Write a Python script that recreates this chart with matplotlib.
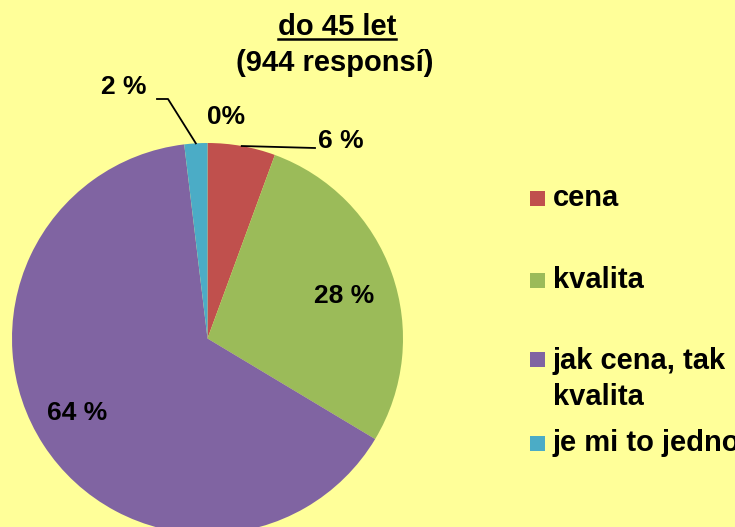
import numpy as np
import matplotlib
matplotlib.use("Agg")
import matplotlib.pyplot as plt
from matplotlib.patches import Rectangle
from matplotlib.lines import Line2D

# ----------------------------
# DATA
# ----------------------------
categories = ["cena", "kvalita", "jak cena, tak\nkvalita", "je mi to jedno", "jiné"]
shares = [5.6, 28.0, 64.5, 1.9, 0.0]
pct_labels = ["6 %", "28 %", "64 %", "2 %", "0%"]
colors = ["#C0504D", "#9BBB59", "#8064A2", "#4BACC6", "#F79646"]
title_lines = ["do 45 let", "(944 responsí)"]

W, H = 735, 527
BG = "#FFFF99"
FONT = "Liberation Sans"


def px(x, y):
    # image pixel coords (y from top) -> axes data coords
    return x, H - y


fig = plt.figure(figsize=(W / 100, H / 100), dpi=100, facecolor=BG)
ax = fig.add_axes([0, 0, 1, 1])
ax.set_facecolor(BG)

# ----------------------------
# PIE
# ----------------------------
cx, cy = px(207.5, 338.5)
radius = 195.5
wedges, _ = ax.pie(shares, colors=colors, startangle=90, counterclock=False,
                   center=(cx, cy), radius=radius, frame=True,
                   wedgeprops=dict(linewidth=0))
ax.set_xlim(0, W)
ax.set_ylim(0, H)
ax.set_aspect("equal")
ax.axis("off")


def edge_point(w, frac=1.0):
    ang = np.deg2rad((w.theta1 + w.theta2) / 2)
    return cx + frac * radius * np.cos(ang), cy + frac * radius * np.sin(ang)


txt = dict(fontsize=19, fontweight="bold", family=FONT, color="black")

# inside labels
ax.text(*px(344, 296), pct_labels[1], ha="center", va="center", **txt)
ax.text(*px(77, 413), pct_labels[2], ha="center", va="center", **txt)

# outside labels with leaders
ax.text(*px(341, 141), pct_labels[0], ha="center", va="center", **txt)
x0, y0 = edge_point(wedges[0])
ax.add_line(Line2D([x0, px(315, 148)[0]], [y0, px(315, 148)[1]], color="black", lw=1.3))

ax.text(*px(124, 87), pct_labels[3], ha="center", va="center", **txt)
x3, y3 = edge_point(wedges[3])
lx = [px(157, 99)[0], px(168, 99)[0], x3]
ly = [px(157, 99)[1], px(168, 99)[1], y3]
ax.add_line(Line2D(lx, ly, color="black", lw=1.3))

ax.text(*px(226, 117), pct_labels[4], ha="center", va="center", **txt)

# ----------------------------
# TITLE (underlined first line)
# ----------------------------
t1 = ax.text(*px(337, 27), title_lines[0], ha="center", va="center",
             fontsize=21, fontweight="bold", family=FONT)
ax.text(*px(335, 63), title_lines[1], ha="center", va="center",
        fontsize=21, fontweight="bold", family=FONT)
fig.canvas.draw()
bb = t1.get_window_extent().transformed(ax.transData.inverted())
ax.add_line(Line2D([bb.x0, bb.x1], [bb.y0 + 2, bb.y0 + 2], color="black", lw=1.8))

# ----------------------------
# LEGEND (manual, clipped at right edge like the original)
# ----------------------------
legend_y = [198, 280, 359, 443]
for i, yy in enumerate(legend_y):
    sx, sy = px(530, yy + 7.5)
    ax.add_patch(Rectangle((sx, sy), 15, 15, facecolor=colors[i], edgecolor="none"))
    multi = "\n" in categories[i]
    ax.text(*px(553, yy - 12 if multi else yy), categories[i], ha="left",
            va="top" if multi else "center",
            fontsize=21, fontweight="bold", family=FONT, linespacing=1.35,
            clip_on=False)

fig.savefig("out.png", dpi=100, facecolor=BG)
